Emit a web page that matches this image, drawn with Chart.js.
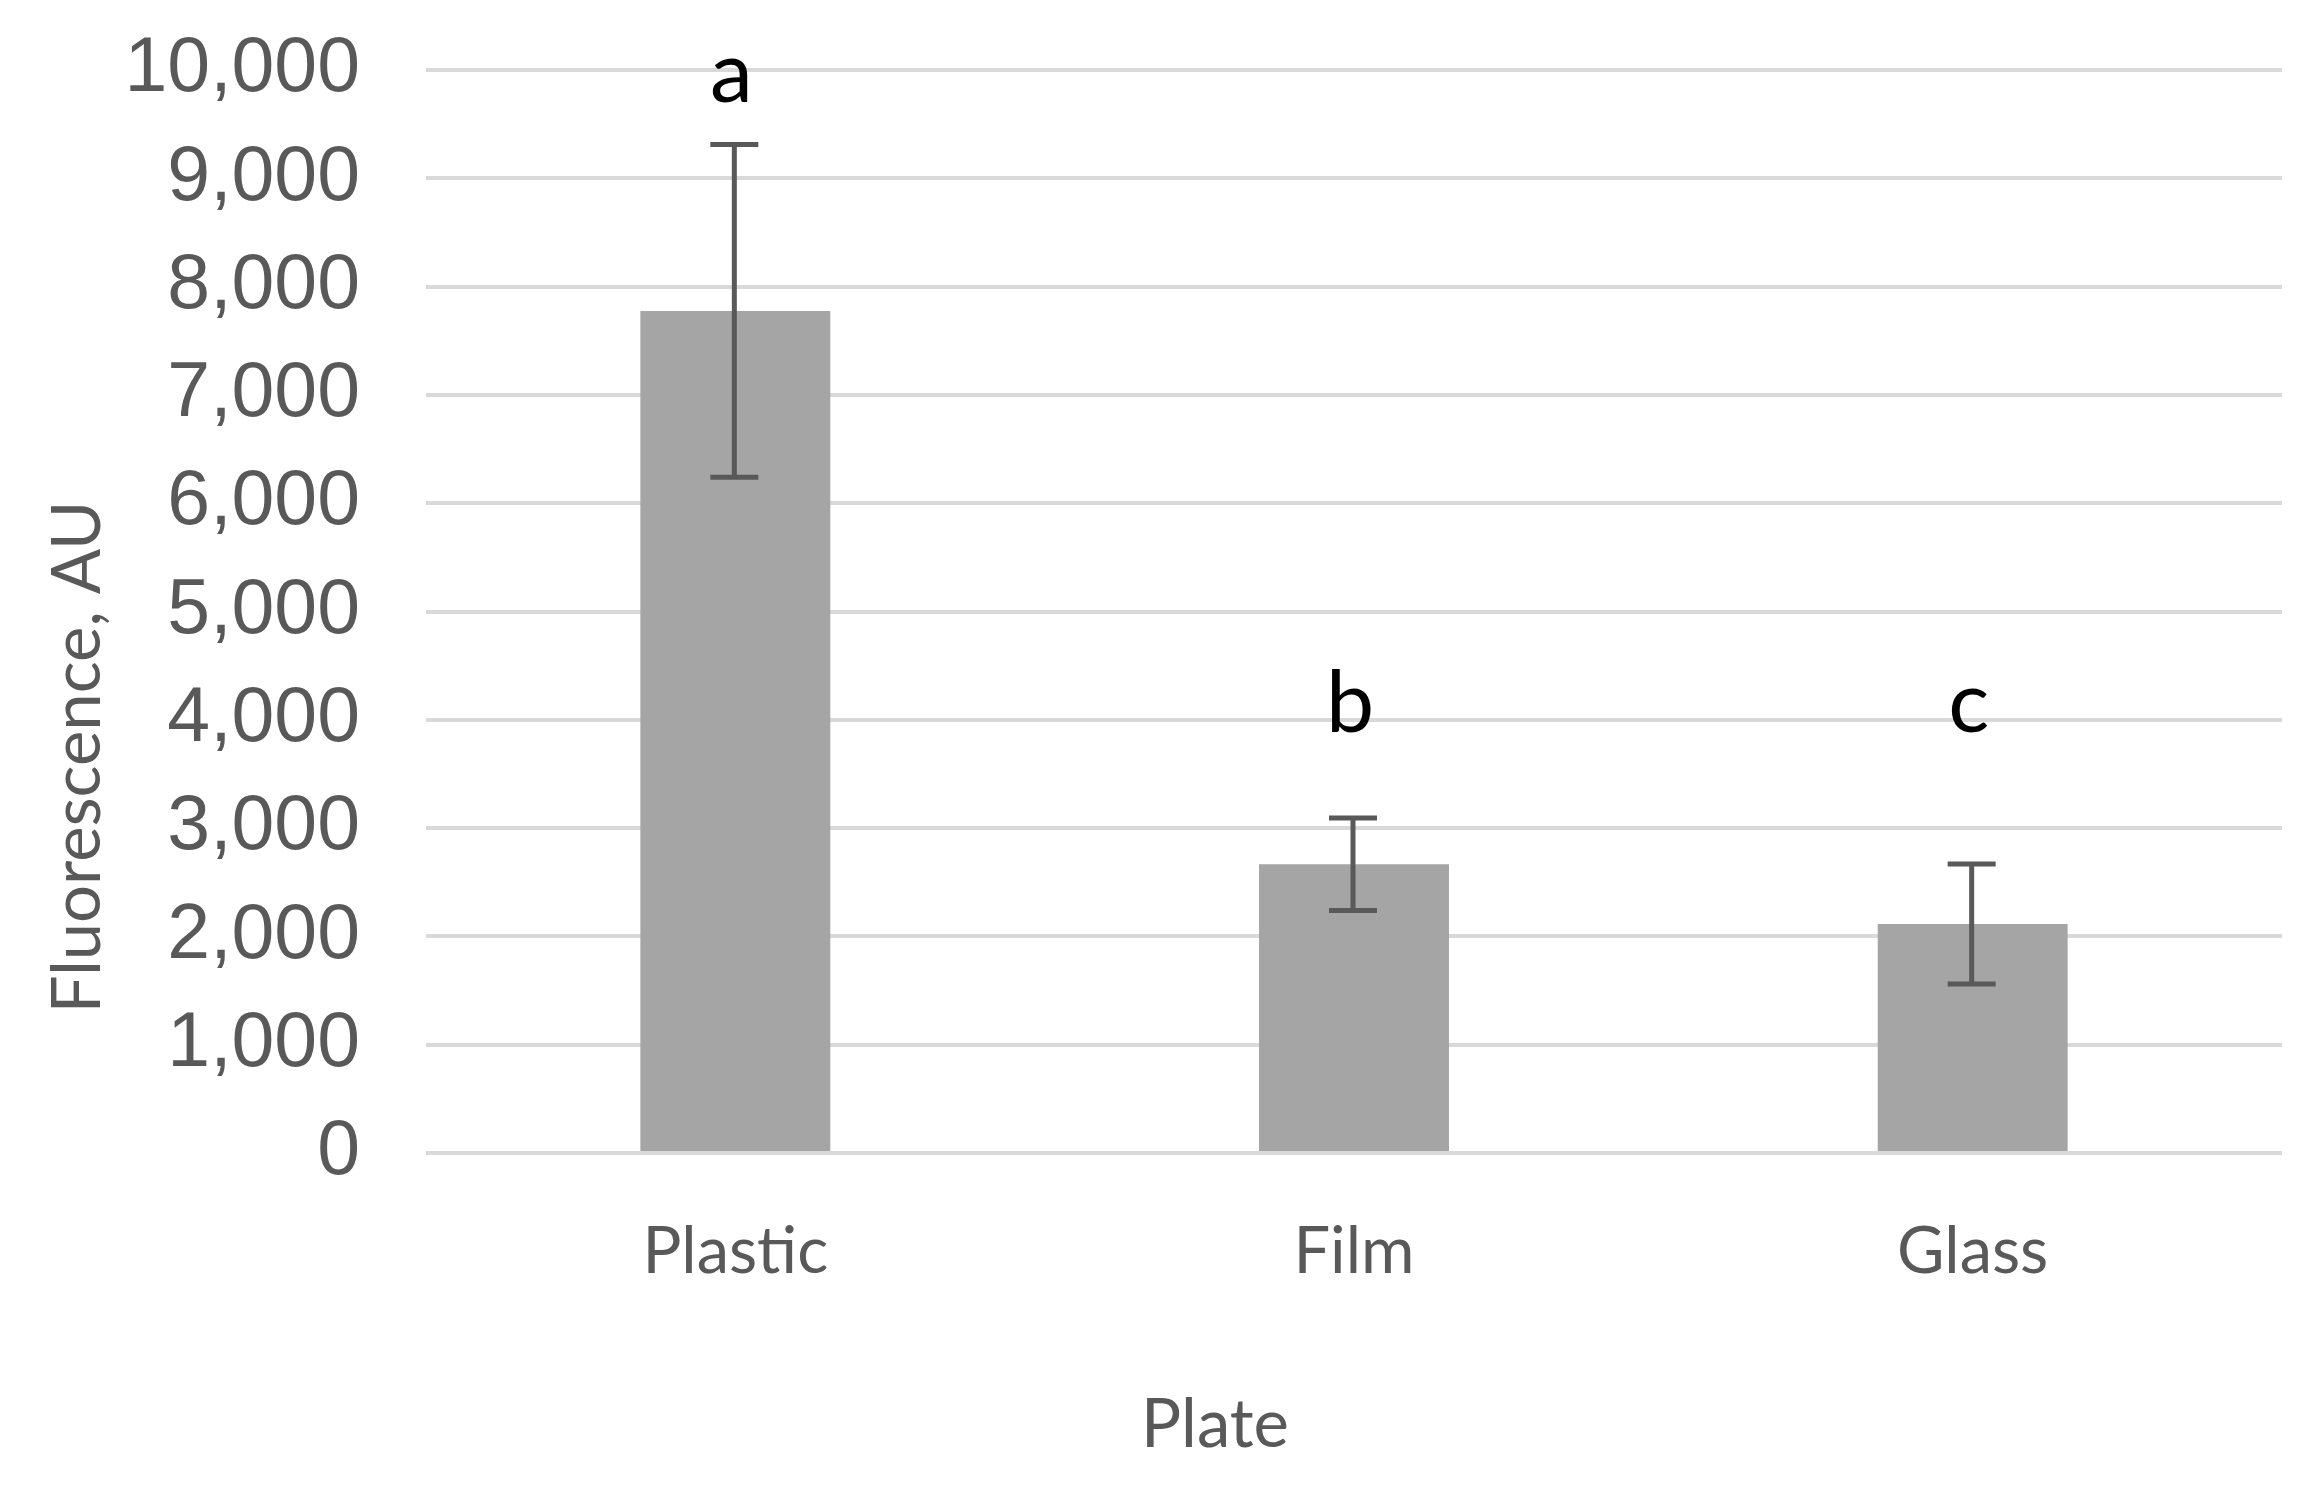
<!DOCTYPE html>
<html>
<head>
<meta charset="utf-8">
<script src="https://cdn.jsdelivr.net/npm/chart.js@4"></script>
<style>
  body { margin: 0; background: #fff; }
  #wrap { width: 2320px; height: 1488px; }
</style>
</head>
<body>
<div id="wrap"><canvas id="graphCanvas" width="2320" height="1488"></canvas></div>
<script>
// Veriler
const categories = ['Plastic', 'Film', 'Glass'];
const meanValues = [7775, 2666, 2114];
const errorValues = [1536, 427, 554];
const sigLetters = ['a', 'b', 'c'];
const letterHeights = [9705, 3890, 3890];
const yTicks = [0, 1000, 2000, 3000, 4000, 5000, 6000, 7000, 8000, 9000, 10000];

const textGray = '#595959';

// Hata çubukları, harfler ve eksen başlıkları
const extrasPlugin = {
    id: 'extras',
    afterDatasetsDraw(chart) {
        const ctx = chart.ctx;
        const xs = chart.scales.x;
        const ys = chart.scales.y;
        const meta = chart.getDatasetMeta(0);
        ctx.save();
        ctx.strokeStyle = textGray;
        ctx.lineWidth = 5;
        meta.data.forEach((bar, i) => {
            const top = ys.getPixelForValue(meanValues[i] + errorValues[i]);
            const bot = ys.getPixelForValue(meanValues[i] - errorValues[i]);
            const x = bar.x - 1;
            ctx.beginPath();
            ctx.moveTo(x, top); ctx.lineTo(x, bot);
            ctx.moveTo(x - 24, top); ctx.lineTo(x + 24, top);
            ctx.moveTo(x - 24, bot); ctx.lineTo(x + 24, bot);
            ctx.stroke();
        });

        ctx.fillStyle = '#000';
        ctx.font = '86px Lato';
        ctx.textAlign = 'center';
        ctx.textBaseline = 'alphabetic';
        sigLetters.forEach((t, i) => {
            ctx.fillText(t, xs.getPixelForValue(i) - 4, ys.getPixelForValue(letterHeights[i]));
        });

        ctx.fillStyle = textGray;
        ctx.font = '67px Lato';
        ctx.fillText('Plate', 1215, 1447);

        ctx.translate(100, 757);
        ctx.rotate(-Math.PI / 2);
        ctx.fillText('Fluorescence, AU', 0, 0);
        ctx.restore();
    }
};

const ctx = document.getElementById('graphCanvas').getContext('2d');
window.myChart = new Chart(ctx, {
    type: 'bar',
    data: {
        labels: categories,
        datasets: [{
            data: meanValues,
            backgroundColor: '#a5a5a5',
            barPercentage: 0.307,
            categoryPercentage: 1.0
        }]
    },
    options: {
        responsive: false,
        animation: false,
        layout: { padding: { top: 70, right: 38, left: 0, bottom: 0 } },
        plugins: {
            legend: { display: false },
            tooltip: { enabled: false }
        },
        scales: {
            x: {
                grid: { display: false },
                border: { display: false },
                ticks: {
                    color: textGray,
                    font: { family: 'Lato', size: 65 },
                    padding: 52
                },
                afterFit(s) { s.height = 335; }
            },
            y: {
                min: 0,
                max: 10000,
                afterBuildTicks(s) { s.ticks = yTicks.map(v => ({ value: v })); },
                grid: { color: '#d9d9d9', lineWidth: 4, drawTicks: false },
                border: { display: false },
                ticks: {
                    color: textGray,
                    font: { family: "'Liberation Sans', Arial", size: 77 },
                    padding: 66,
                    callback: v => v.toLocaleString('en-US')
                },
                afterFit(s) {
                    s.width = 426;
                    s.paddingTop = 46;
                    s.paddingBottom = 46;
                }
            }
        }
    },
    plugins: [extrasPlugin]
});
</script>
</body>
</html>
